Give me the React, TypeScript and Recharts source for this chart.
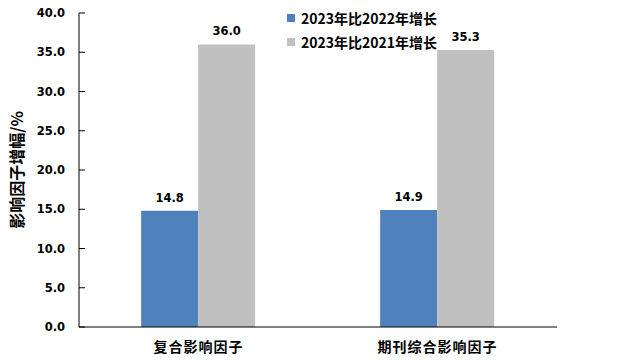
import { Bar, BarChart, LabelList, Legend, XAxis, YAxis } from "recharts";

const categories = ["复合影响因子", "期刊综合影响因子"];
const growthVs2022 = [14.8, 14.9];
const growthVs2021 = [36.0, 35.3];
const seriesNames = ["2023年比2022年增长", "2023年比2021年增长"];
const yTicks = [0, 5, 10, 15, 20, 25, 30, 35, 40];
const boundaryTicks = [0, 1, 2];

const COLORS = ["#4F81BD", "#C0C0C0"];
const NUM_FONT = "'DejaVu Sans', Verdana, sans-serif";
const CJK_FONT = "'Noto Sans CJK SC', sans-serif";

const data = categories.map((name, i) => ({
    name,
    a: growthVs2022[i],
    b: growthVs2021[i],
}));

function YTick(props: any) {
    const { x, y, payload } = props;
    return (
        <g>
            <line x1={x + 14} x2={x + 20} y1={y} y2={y} stroke="#000" />
            <text
                x={x}
                y={y}
                dy={4}
                textAnchor="end"
                fontFamily={NUM_FONT}
                fontWeight="bold"
                fontSize={11.5}
                fill="#000"
            >
                {Number(payload.value).toFixed(1)}
            </text>
        </g>
    );
}

// legend order follows the series, not recharts' sorted payload
function renderLegend() {
    return (
        <div style={{ display: "flex", flexDirection: "column", gap: 6 }}>
            {seriesNames.map((name, i) => (
                <div
                    key={name}
                    style={{
                        display: "flex",
                        alignItems: "center",
                        height: 18,
                        fontFamily: CJK_FONT,
                        fontWeight: "bold",
                        fontSize: 14,
                        color: "#000",
                    }}
                >
                    <span
                        style={{
                            width: 8,
                            height: 8,
                            marginRight: 6,
                            backgroundColor: COLORS[i],
                        }}
                    />
                    {name}
                </div>
            ))}
        </div>
    );
}

export default function App() {
    return (
        <div style={{ position: "absolute", left: 0, top: 0, background: "#fff" }}>
            <BarChart
                width={620}
                height={360}
                data={data}
                barCategoryGap="26%"
                barGap={0}
                margin={{ top: 13, right: 63, left: 0, bottom: 0 }}
            >
                <XAxis
                    dataKey="name"
                    height={33}
                    tickLine={false}
                    tickSize={0}
                    tickMargin={15}
                    axisLine={{ stroke: "#000" }}
                    tick={{
                        fontFamily: CJK_FONT,
                        fontWeight: "bold",
                        fontSize: 14,
                        fill: "#000",
                        letterSpacing: 1,
                    }}
                />
                <XAxis
                    xAxisId="grid"
                    type="number"
                    domain={[0, 2]}
                    ticks={boundaryTicks}
                    allowDataOverflow
                    mirror
                    height={0}
                    tick={false}
                    axisLine={false}
                    tickSize={5}
                    tickLine={{ stroke: "#000" }}
                />
                <YAxis
                    width={79}
                    domain={[0, 40]}
                    ticks={yTicks}
                    interval={0}
                    tickSize={0}
                    tickMargin={14}
                    tickLine={false}
                    axisLine={{ stroke: "#000" }}
                    tick={<YTick />}
                    label={{
                        value: "影响因子增幅/%",
                        angle: -90,
                        position: "insideLeft",
                        offset: 17,
                        style: {
                            textAnchor: "middle",
                            fontFamily: CJK_FONT,
                            fontWeight: "bold",
                            fontSize: 16,
                            fill: "#000",
                        },
                    }}
                />
                <Legend
                    layout="vertical"
                    align="center"
                    verticalAlign="middle"
                    content={renderLegend}
                    wrapperStyle={{ left: 287, top: 9, width: 200 }}
                />
                <Bar
                    dataKey="a"
                    name={seriesNames[0]}
                    fill={COLORS[0]}
                    isAnimationActive={false}
                >
                    <LabelList
                        dataKey="a"
                        position="top"
                        offset={9}
                        formatter={(v: any) => Number(v).toFixed(1)}
                        style={{
                            fontFamily: NUM_FONT,
                            fontWeight: "bold",
                            fontSize: 11.5,
                            fill: "#000",
                        }}
                    />
                </Bar>
                <Bar
                    dataKey="b"
                    name={seriesNames[1]}
                    fill={COLORS[1]}
                    isAnimationActive={false}
                >
                    <LabelList
                        dataKey="b"
                        position="top"
                        offset={9}
                        formatter={(v: any) => Number(v).toFixed(1)}
                        style={{
                            fontFamily: NUM_FONT,
                            fontWeight: "bold",
                            fontSize: 11.5,
                            fill: "#000",
                        }}
                    />
                </Bar>
            </BarChart>
        </div>
    );
}
